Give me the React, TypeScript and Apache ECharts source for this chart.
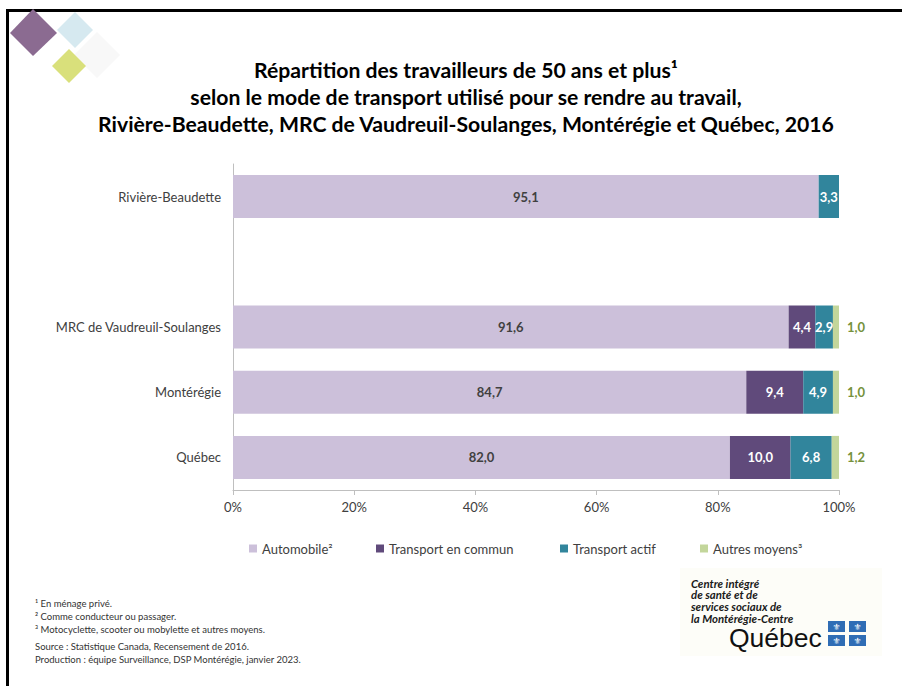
import React, { useEffect, useRef } from "react";
import * as echarts from "echarts";

const titleLines = [
  "Répartition des travailleurs de 50 ans et plus¹",
  "selon le mode de transport utilisé pour se rendre au travail,",
  "Rivière-Beaudette, MRC de Vaudreuil-Soulanges, Montérégie et Québec, 2016",
];
const categories = ["Rivière-Beaudette", "", "MRC de Vaudreuil-Soulanges", "Montérégie", "Québec"];
const seriesNames = ["Automobile²", "Transport en commun", "Transport actif", "Autres moyens³"];
const automobile = [95.1, null, 91.6, 84.7, 82.0];
const transportEnCommun = [null, null, 4.4, 9.4, 10.0];
const transportActif = [3.3, null, 2.9, 4.9, 6.8];
const autresMoyens = [null, null, 1.0, 1.0, 1.2];
const xTicks = [0, 20, 40, 60, 80, 100];
const footnotes = [
  "¹ En ménage privé.",
  "² Comme conducteur ou passager.",
  "³ Motocyclette, scooter ou mobylette et autres moyens.",
  "Source : Statistique Canada, Recensement de 2016.",
  "Production : équipe Surveillance, DSP Montérégie, janvier 2023.",
];
const logoLines = ["Centre intégré", "de santé et de", "services sociaux de", "la Montérégie-Centre"];

const colors = ["#CCC0DA", "#604A7B", "#31859C", "#C3D69B"];
const labelColors = ["#404040", "#FFFFFF", "#FFFFFF", "#76923C"];
const legendLeft = [249, 376, 560, 700];
const FONT = "Lato, 'Open Sans', sans-serif";

const allSeries = [automobile, transportEnCommun, transportActif, autresMoyens];

function fmt(v: number) {
  return v.toFixed(1).replace(".", ",");
}

export default function App() {
  const ref = useRef<HTMLDivElement>(null);
  useEffect(() => {
    if (!ref.current) return;
    const chart = echarts.init(ref.current, null, { renderer: "svg" });
    const totals = categories.map((_, i) =>
      allSeries.reduce((s, arr) => s + (arr[i] == null ? 0 : (arr[i] as number)), 0)
    );
    const series = allSeries.map((arr, si) => ({
      name: seriesNames[si],
      type: "bar",
      stack: "total",
      barWidth: 43,
      itemStyle: { color: colors[si] },
      label: {
        show: true,
        position: si === 3 ? "right" : "inside",
        distance: 8,
        color: labelColors[si],
        fontFamily: FONT,
        fontWeight: "bold",
        fontSize: 13,
        formatter: (p: any) => (p.data && p.data.raw != null ? fmt(p.data.raw) : ""),
      },
      data: arr.map((v, i) =>
        v == null ? { value: null, raw: null } : { value: (v / totals[i]) * 100, raw: v }
      ),
    }));

    const graphics: any[] = [
      // frame
      { type: "rect", shape: { x: 6, y: 9, width: 896, height: 3 }, style: { fill: "#000" } },
      { type: "rect", shape: { x: 6, y: 9, width: 3, height: 677 }, style: { fill: "#000" } },
      // diamond logo
      { type: "polygon", shape: { points: [[97, 32], [120, 55], [97, 78], [74, 55]] }, style: { fill: "#F8F8F8" } },
      { type: "polygon", shape: { points: [[75, 12], [93, 30], [75, 48], [57, 30]] }, style: { fill: "#D6E9F0" } },
      { type: "polygon", shape: { points: [[33, 9], [57, 33], [33, 56], [10, 33]] }, style: { fill: "#8B6B91" } },
      { type: "polygon", shape: { points: [[69, 49], [86, 66], [69, 83], [52, 66]] }, style: { fill: "#D9E07B" } },
      // bottom-right logo
      { type: "rect", shape: { x: 680, y: 568, width: 202, height: 88 }, style: { fill: "#FDFDF8" } },
      ...logoLines.map((t, i) => ({
        type: "text",
        x: 691,
        y: 583 + i * 11.8,
        style: {
          text: t,
          fill: "#1A1A1A",
          font: "italic bold 11.4px " + FONT,
          textVerticalAlign: "middle",
        },
      })),
      {
        type: "text",
        x: 729,
        y: 638,
        style: {
          text: "Québec",
          fill: "#111",
          font: "26.5px 'Liberation Sans', sans-serif",
          textVerticalAlign: "middle",
        },
      },
      ...[[828, 621], [849, 621], [828, 635], [849, 635]].flatMap(([x, y]) => [
        { type: "rect", shape: { x, y, width: 17, height: 11 }, style: { fill: "#2F6DB5" } },
        {
          type: "text",
          x: x + 8.5,
          y: y + 5.5,
          style: {
            text: "⚜",
            fill: "#fff",
            font: "9px 'DejaVu Sans'",
            textAlign: "center",
            textVerticalAlign: "middle",
          },
        },
      ]),
      // footnotes
      ...footnotes.map((t, i) => ({
        type: "text",
        x: 35,
        y: [603, 616, 629, 646, 659][i],
        style: {
          text: t,
          fill: "#333",
          font: "9.5px " + FONT,
          textVerticalAlign: "middle",
        },
      })),
    ];

    chart.setOption({
      animation: false,
      backgroundColor: "#fff",
      textStyle: { fontFamily: FONT },
      title: {
        text: titleLines.join("\n"),
        left: 461,
        top: 51,
        textAlign: "center",
        textStyle: {
          fontFamily: FONT,
          fontSize: 21.2,
          fontWeight: "bold",
          color: "#000",
          lineHeight: 27,
        },
      },
      legend: seriesNames.map((n, i) => ({
        data: [n],
        left: legendLeft[i],
        top: 542,
        itemWidth: 8,
        itemHeight: 8,
        icon: "rect",
        padding: 0,
        textStyle: { fontFamily: FONT, fontSize: 13, color: "#404040" },
        selectedMode: false,
      })),
      grid: { left: 233, right: 63, top: 164, bottom: 196, containLabel: false },
      xAxis: {
        type: "value",
        min: xTicks[0],
        max: xTicks[xTicks.length - 1],
        interval: 20,
        axisLine: { show: true, lineStyle: { color: "#BFBFBF" } },
        axisTick: { show: true, length: 5, lineStyle: { color: "#BFBFBF" } },
        splitLine: { show: false },
        axisLabel: { formatter: "{value}%", color: "#404040", fontSize: 13, margin: 10, fontFamily: FONT },
      },
      yAxis: {
        type: "category",
        inverse: true,
        data: categories,
        axisLine: { show: true, lineStyle: { color: "#BFBFBF" } },
        axisTick: { show: false },
        axisLabel: { color: "#404040", fontSize: 13, margin: 12, fontFamily: FONT },
      },
      series,
      graphic: graphics,
    });
    return () => chart.dispose();
  }, []);
  return (
    <div
      ref={ref}
      style={{ position: "fixed", left: 0, top: 0, width: 902, height: 686 }}
    />
  );
}
